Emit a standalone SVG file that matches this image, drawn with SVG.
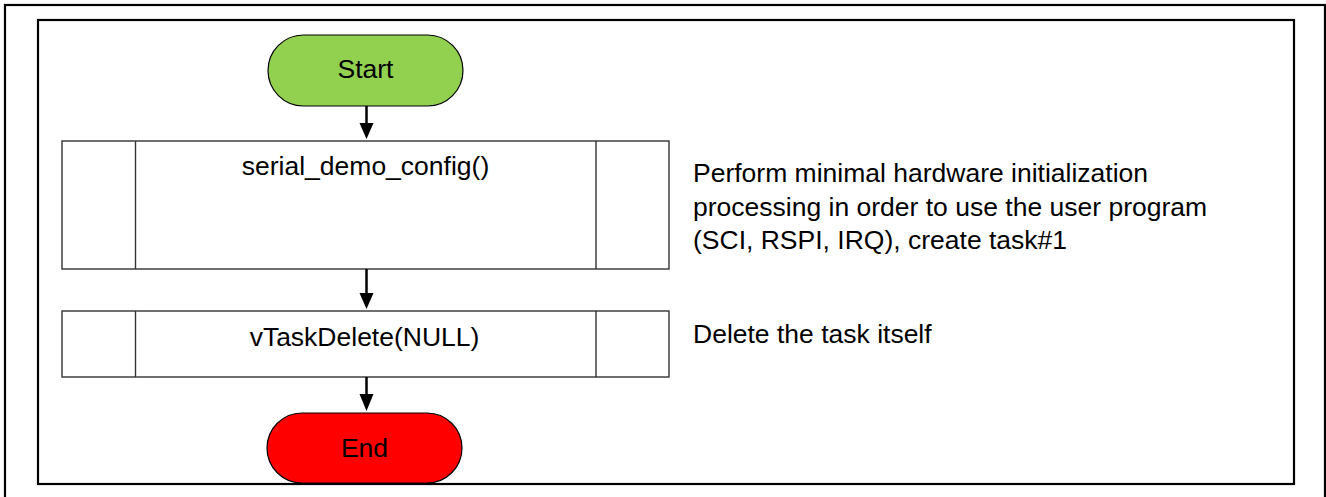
<svg xmlns="http://www.w3.org/2000/svg" width="1326" height="497" viewBox="0 0 1326 497">
<style>
.frame{fill:none;stroke:#000;stroke-width:2.2}
.proc{fill:#fff;stroke:#333;stroke-width:1.4}
.div{stroke:#333;stroke-width:1.4}
.term{stroke:#000;stroke-width:1.2}
.t{font-family:"Liberation Sans",Arial,sans-serif;font-size:26.5px;fill:#000}
.c{text-anchor:middle}
.conn{stroke:#000;stroke-width:2.5;fill:none}
.head{fill:#000}
</style>
<rect width="1326" height="497" fill="#fff"/>
<rect class="frame" x="5" y="5" width="1320" height="500"/>
<rect class="frame" x="38" y="20" width="1256" height="464"/>
<g id="start">
<rect class="term" x="268" y="35" width="195" height="71" rx="35.5" fill="#92D050"/>
<text class="t c" x="365.5" y="78">Start</text>
</g>
<g id="serial_demo_config">
<rect class="proc" x="62" y="141" width="607" height="128"/>
<line class="div" x1="135.5" y1="141" x2="135.5" y2="269"/>
<line class="div" x1="596" y1="141" x2="596" y2="269"/>
<text class="t c" x="365.5" y="175">serial_demo_config()</text>
</g>
<g id="note1">
<text class="t" x="693" y="182" font-size="27">Perform minimal hardware initialization</text>
<text class="t" x="693" y="216" font-size="27">processing in order to use the user program</text>
<text class="t" x="693" y="249" font-size="27">(SCI, RSPI, IRQ), create task#1</text>
</g>
<g id="vTaskDelete">
<rect class="proc" x="62" y="311" width="607" height="66"/>
<line class="div" x1="135.5" y1="311" x2="135.5" y2="377"/>
<line class="div" x1="596" y1="311" x2="596" y2="377"/>
<text class="t c" x="364.5" y="346">vTaskDelete(NULL)</text>
</g>
<g id="note2">
<text class="t" x="693" y="343" font-size="27">Delete the task itself</text>
</g>
<g id="end">
<rect class="term" x="267" y="413" width="195" height="70" rx="35" fill="#FF0000"/>
<text class="t c" x="364.5" y="457">End</text>
</g>
<g id="connectors">
<line class="conn" x1="366.5" y1="106" x2="366.5" y2="125"/>
<polygon class="head" points="359.5,123 373.5,123 366.5,139"/>
<line class="conn" x1="366.5" y1="269" x2="366.5" y2="295"/>
<polygon class="head" points="359.5,293 373.5,293 366.5,309"/>
<line class="conn" x1="366.5" y1="377" x2="366.5" y2="396"/>
<polygon class="head" points="359.5,394 373.5,394 366.5,411"/>
</g>
</svg>
